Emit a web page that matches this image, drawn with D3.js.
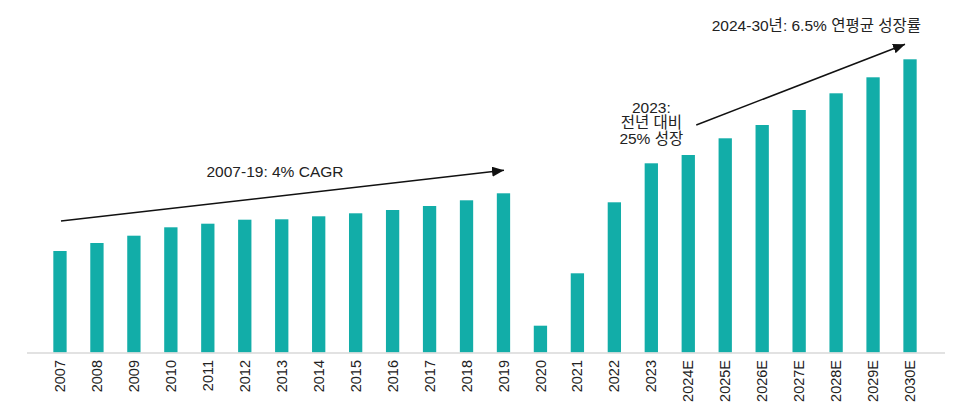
<!DOCTYPE html>
<html>
<head>
<meta charset="utf-8">
<script src="https://cdn.jsdelivr.net/npm/d3@7"></script>
<style>
  html, body { margin: 0; padding: 0; background: #fff; }
  svg { display: block; font-family: "Liberation Sans", Arial, "Noto Sans CJK KR", sans-serif; }
</style>
</head>
<body>
<svg id="chart" width="964" height="416"></svg>
<script>
// ---- data ----
const categories = ["2007","2008","2009","2010","2011","2012","2013","2014","2015","2016","2017","2018","2019","2020","2021","2022","2023","2024E","2025E","2026E","2027E","2028E","2029E","2030E"];
const values = [101.5,109.5,116.8,125.2,128.8,132.8,133.2,136.2,139.2,142.5,146.5,152.2,159.2,26.8,79.2,150.2,189.2,197.5,214.2,227.5,242.5,259.2,275.2,293.2];
const annotationTop = ["2024-30년: 6.5% 연평균 성장률"];
const annotationMid = ["2023:", "전년 대비", "25% 성장"];
const annotationLeft = ["2007-19: 4% CAGR"];

// ---- layout ----
const W = 964, H = 416;
const baseline = 352.5;
const svg = d3.select("#chart");

const x = d3.scaleBand().domain(categories).range([41.5, 928.5]).paddingInner(0.64).paddingOuter(0.32);
const y = d3.scaleLinear().domain([0, 300]).range([baseline, 52.5]);

const barColor = "#12ADA8";
const textColor = "#222";

// bars
svg.append("g").selectAll("rect").data(categories).join("rect")
  .attr("x", d => x(d))
  .attr("width", x.bandwidth())
  .attr("y", (d, i) => y(values[i]))
  .attr("height", (d, i) => baseline - y(values[i]))
  .attr("fill", barColor);

// axis
const axis = d3.axisBottom(x).tickSize(0).tickPadding(0);
const gAxis = svg.append("g").attr("transform", `translate(0,${baseline})`).call(axis);
gAxis.select(".domain").remove();
gAxis.selectAll("text")
  .attr("transform", "rotate(-90)")
  .attr("x", -7.5)
  .attr("y", 0)
  .attr("dy", "0.35em")
  .attr("text-anchor", "end")
  .attr("fill", textColor)
  .style("font-size", "14.5px")
  .style("font-family", "'Liberation Sans', Arial, sans-serif");
svg.append("line")
  .attr("x1", 27).attr("x2", 945)
  .attr("y1", baseline + 0.5).attr("y2", baseline + 0.5)
  .attr("stroke", "#d9d9d9").attr("stroke-width", 1.5);

// arrow marker
svg.append("defs").append("marker")
  .attr("id", "arrow")
  .attr("viewBox", "0 0 12 10")
  .attr("refX", 12).attr("refY", 5)
  .attr("markerWidth", 12).attr("markerHeight", 10)
  .attr("markerUnits", "userSpaceOnUse")
  .attr("orient", "auto")
  .append("path").attr("d", "M0,0 L12,5 L0,10 Z").attr("fill", "#111");

const cx = c => x(c) + x.bandwidth() / 2;
function arrow(c0, v0, dx0, c1, v1, dx1) {
  svg.append("line")
    .attr("x1", cx(c0) + dx0).attr("y1", y(v0))
    .attr("x2", cx(c1) + dx1).attr("y2", y(v1))
    .attr("stroke", "#111").attr("stroke-width", 1.5)
    .attr("marker-end", "url(#arrow)");
}
arrow("2007", values[0] + 30, 1, "2019", values[12] + 23, 0.5);
arrow("2024E", values[17] + 30, 8, "2030E", values[23] + 15, -5);

// annotation texts
svg.append("text")
  .attr("x", 206.5).attr("y", 177)
  .attr("fill", textColor).style("font-size", "15.5px")
  .text(annotationLeft[0]);

svg.append("text")
  .attr("x", 921).attr("y", 31)
  .attr("text-anchor", "end")
  .attr("fill", textColor).style("font-size", "15.5px")
  .text(annotationTop[0]);

svg.append("text")
  .attr("text-anchor", "middle")
  .attr("fill", textColor).style("font-size", "15.5px")
  .selectAll("tspan").data(annotationMid).join("tspan")
  .attr("x", cx("2023"))
  .attr("y", (d, i) => 112.5 + i * 15.5)
  .text(d => d);
</script>
</body>
</html>
